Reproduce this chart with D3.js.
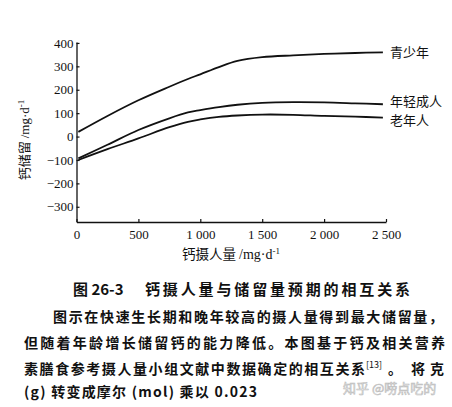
<!DOCTYPE html>
<html>
<head>
<meta charset="utf-8">
<script src="https://cdn.jsdelivr.net/npm/d3@7"></script>
<style>
body { margin: 0; background: #fff; }
svg { display: block; }
.tick text { font-family: "Liberation Serif", "DejaVu Serif", serif; font-size: 13px; fill: #111; }
.cjk { font-family: "Noto Sans CJK SC", sans-serif; fill: #111; }
</style>
</head>
<body>
<script>
// intake (mg/d) sample points
var intake = [15, 250, 500, 750, 900, 1000, 1150, 1300, 1500, 1750, 2000, 2250, 2475];
var teen  = [20, 88, 155, 213, 246, 266, 297, 323, 339, 347, 353, 357, 360];
var young = [-93, -35, 28, 78, 103, 113, 126, 136, 144, 147, 146, 142, 138];
var old   = [-100, -54, -8, 40, 63, 73, 84, 90, 94, 93, 88, 85, 81];
var seriesNames = ["青少年", "年轻成人", "老年人"];
var xTicks = [0, 500, 1000, 1500, 2000, 2500];
var xTickLabels = ["0", "500", "1 000", "1 500", "2 000", "2 500"];
var yTicks = [400, 300, 200, 100, 0, -100, -200, -300];

var svgWidth = 452, svgHeight = 407;
var svg = d3.select("body").append("svg").attr("width", svgWidth).attr("height", svgHeight);

var x = d3.scaleLinear().domain([0, 2500]).range([76.5, 386]);
var y = d3.scaleLinear().domain([-365, 404]).range([222, 42]);

// axes
var xAxis = d3.axisBottom(x).tickValues(xTicks).tickFormat((d, i) => xTickLabels[i])
  .tickSizeInner(-3).tickSizeOuter(0).tickPadding(8);
var gx = svg.append("g").attr("transform", `translate(0, ${y(-365)})`).call(xAxis);
var yAxis = d3.axisLeft(y).tickValues(yTicks).tickFormat(d => d < 0 ? "\u2212" + Math.abs(d) : d)
  .tickSizeInner(-3).tickSizeOuter(0).tickPadding(3);
var gy = svg.append("g").attr("transform", `translate(${x(0)}, 0)`).call(yAxis);
[gx, gy].forEach(g => {
  g.select(".domain").attr("stroke", "#111").attr("stroke-width", 1.3);
  g.selectAll(".tick line").attr("stroke", "#111").attr("stroke-width", 1.2);
});

// curves
var line = d3.line().x(d => x(d[0])).y(d => y(d[1])).curve(d3.curveCatmullRom.alpha(0.5));
var labelShift = [0, -3, 2.5];
[teen, young, old].forEach(function (vals, k) {
  var pts = intake.map((v, i) => [v, vals[i]]);
  svg.append("path").datum(pts).attr("d", line)
    .attr("fill", "none").attr("stroke", "#111").attr("stroke-width", 1.8);
  svg.append("text").attr("class", "cjk")
    .attr("x", 390).attr("y", y(vals[vals.length - 1]) + labelShift[k])
    .attr("dy", "0.36em").attr("font-size", 13).text(seriesNames[k]);
});

// axis titles
var yt = svg.append("text").attr("class", "cjk").attr("font-size", 13)
  .attr("transform", "translate(29, 140) rotate(-90)").attr("text-anchor", "middle");
yt.append("tspan").text("钙储留 ");
yt.append("tspan").attr("font-family", "Liberation Serif").text("/mg·d");
yt.append("tspan").attr("font-family", "Liberation Serif").attr("font-size", 9).attr("dy", -5).text("-1");

var xt = svg.append("text").attr("class", "cjk").attr("font-size", 13.5)
  .attr("x", 182).attr("y", 259);
xt.append("tspan").text("钙摄人量 ");
xt.append("tspan").attr("font-family", "Liberation Serif").attr("font-size", 14).text("/mg·d");
xt.append("tspan").attr("font-family", "Liberation Serif").attr("font-size", 9).attr("dy", -5).text("-1");

// caption
svg.append("text").attr("class", "cjk").attr("font-size", 15).attr("font-weight", "bold")
  .attr("x", 73).attr("y", 295).text("图 26-3");
svg.append("text").attr("class", "cjk").attr("font-size", 15).attr("font-weight", "bold")
  .attr("x", 145).attr("y", 295).attr("textLength", 265).attr("lengthAdjust", "spacing")
  .text("钙摄人量与储留量预期的相互关系");

var para = [
  {x: 53, y: 322, len: 390, t: "图示在快速生长期和晚年较高的摄人量得到最大储留量，"},
  {x: 24, y: 348, len: 421, t: "但随着年龄增长储留钙的能力降低。本图基于钙及相关营养"},
  {x: 24, y: 374, len: 341, t: "素膳食参考摄人量小组文献中数据确定的相互关系"},
  {x: 24, y: 397, len: 233, t: "(g) 转变成摩尔 (mol) 乘以 0.023"}
];
para.forEach(p => {
  svg.append("text").attr("class", "cjk").attr("font-size", 14).attr("font-weight", "bold")
    .attr("x", p.x).attr("y", p.y).attr("textLength", p.len).attr("lengthAdjust", "spacing").text(p.t);
});
svg.append("text").attr("class", "cjk").attr("font-size", 9).attr("x", 366).attr("y", 368).text("[13]");
svg.append("text").attr("class", "cjk").attr("font-size", 14).attr("font-weight", "bold")
  .attr("x", 388).attr("y", 374).text("。");
svg.append("text").attr("class", "cjk").attr("font-size", 14).attr("font-weight", "bold")
  .attr("x", 411).attr("y", 374).attr("textLength", 33).attr("lengthAdjust", "spacing").text("将克");

// watermark
svg.append("text").attr("class", "cjk").attr("font-size", 13)
  .attr("x", 343).attr("y", 393).attr("stroke", "#bbb").attr("stroke-width", 0.6)
  .style("fill", "#f4f4f4").text("知乎 @唠点吃的");
</script>
</body>
</html>
